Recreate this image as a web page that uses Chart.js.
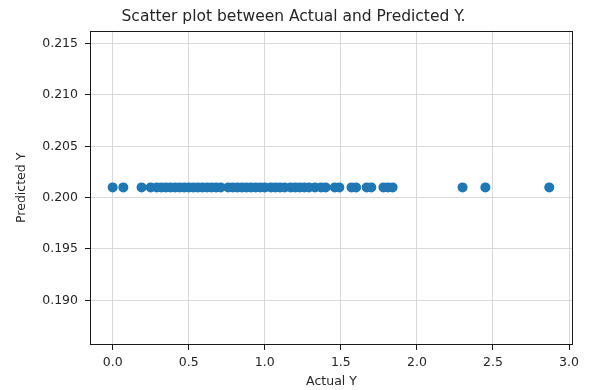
<!DOCTYPE html>
<html>
<head>
<meta charset="utf-8">
<script src="https://cdn.jsdelivr.net/npm/chart.js@4/dist/chart.umd.min.js"></script>
<style>
  html, body { margin: 0; padding: 0; background: #ffffff; }
  #wrap { width: 589px; height: 390px; position: relative; }
</style>
</head>
<body>
<div id="wrap"><canvas id="c" width="589" height="390"></canvas></div>
<script>
// Data
const actualY = [0.00, 0.07, 0.19, 0.25, 0.29, 0.32, 0.35, 0.38, 0.41, 0.44, 0.47, 0.50,
  0.53, 0.56, 0.59, 0.62, 0.65, 0.68, 0.71, 0.76, 0.79, 0.82, 0.85, 0.88, 0.91, 0.94,
  0.97, 1.00, 1.04, 1.07, 1.10, 1.13, 1.17, 1.20, 1.23, 1.26, 1.29, 1.33, 1.37, 1.40,
  1.46, 1.49, 1.57, 1.60, 1.67, 1.70, 1.78, 1.81, 1.84, 2.30, 2.45, 2.87];
const predictedValue = 0.201;
const predictedY = actualY.map(() => predictedValue);
const xTicks = [0.0, 0.5, 1.0, 1.5, 2.0, 2.5, 3.0];
const yTicks = [0.190, 0.195, 0.200, 0.205, 0.210, 0.215];
const xRange = [-0.149, 3.026];
const yRange = [0.18565, 0.21627];

const points = actualY.map((x, i) => ({ x: x, y: predictedY[i] }));

const FONT = "'DejaVu Sans', sans-serif";
const TEXT = '#262626';
const GRID = '#d9d9d9';
const SPINE = '#1a1a1a';

const frame = {
  id: 'frame',
  afterDatasetsDraw(chart) {
    const a = chart.chartArea, ctx = chart.ctx;
    ctx.save();
    ctx.strokeStyle = SPINE;
    ctx.lineWidth = 1;
    ctx.strokeRect(Math.round(a.left) + 0.5, Math.round(a.top) + 0.5,
      Math.round(a.right - a.left) - 1, Math.round(a.bottom - a.top) - 1);
    ctx.restore();
  }
};

new Chart(document.getElementById('c'), {
  type: 'scatter',
  data: {
    datasets: [{
      data: points,
      backgroundColor: '#1f77b4',
      borderWidth: 0,
      pointRadius: 5,
      pointHoverRadius: 5
    }]
  },
  options: {
    responsive: false,
    animation: false,
    devicePixelRatio: 1,
    layout: { padding: { left: 14, right: 16, top: 1, bottom: 0 } },
    plugins: {
      legend: { display: false },
      tooltip: { enabled: false },
      title: {
        display: true,
        text: 'Scatter plot between Actual and Predicted Y.',
        color: TEXT,
        font: { family: FONT, size: 15.5, weight: 'normal' },
        padding: { top: 7, bottom: 4 }
      }
    },
    scales: {
      x: {
        type: 'linear',
        min: xRange[0],
        max: xRange[1],
        afterBuildTicks: s => { s.ticks = xTicks.map(v => ({ value: v })); },
        afterFit: s => { s.height = 45; },
        ticks: {
          color: TEXT,
          font: { family: FONT, size: 12.5 },
          padding: 5,
          maxRotation: 0,
          callback: v => Number(v).toFixed(1)
        },
        grid: { color: GRID, tickColor: SPINE, tickLength: 5, lineWidth: 1 },
        border: { display: false },
        title: {
          display: true,
          text: 'Actual Y',
          color: TEXT,
          font: { family: FONT, size: 12.5 },
          padding: { top: 0, bottom: 1 }
        }
      },
      y: {
        type: 'linear',
        min: yRange[0],
        max: yRange[1],
        afterBuildTicks: s => { s.ticks = yTicks.map(v => ({ value: v })); },
        afterFit: s => { s.width = 76; },
        ticks: {
          color: TEXT,
          font: { family: FONT, size: 12.5 },
          padding: 7,
          callback: v => Number(v).toFixed(3)
        },
        grid: { color: GRID, tickColor: SPINE, tickLength: 5, lineWidth: 1 },
        border: { display: false },
        title: {
          display: true,
          text: 'Predicted Y',
          color: TEXT,
          font: { family: FONT, size: 12.5 },
          padding: { top: 0, bottom: 0 }
        }
      }
    }
  },
  plugins: [frame]
});
</script>
</body>
</html>
